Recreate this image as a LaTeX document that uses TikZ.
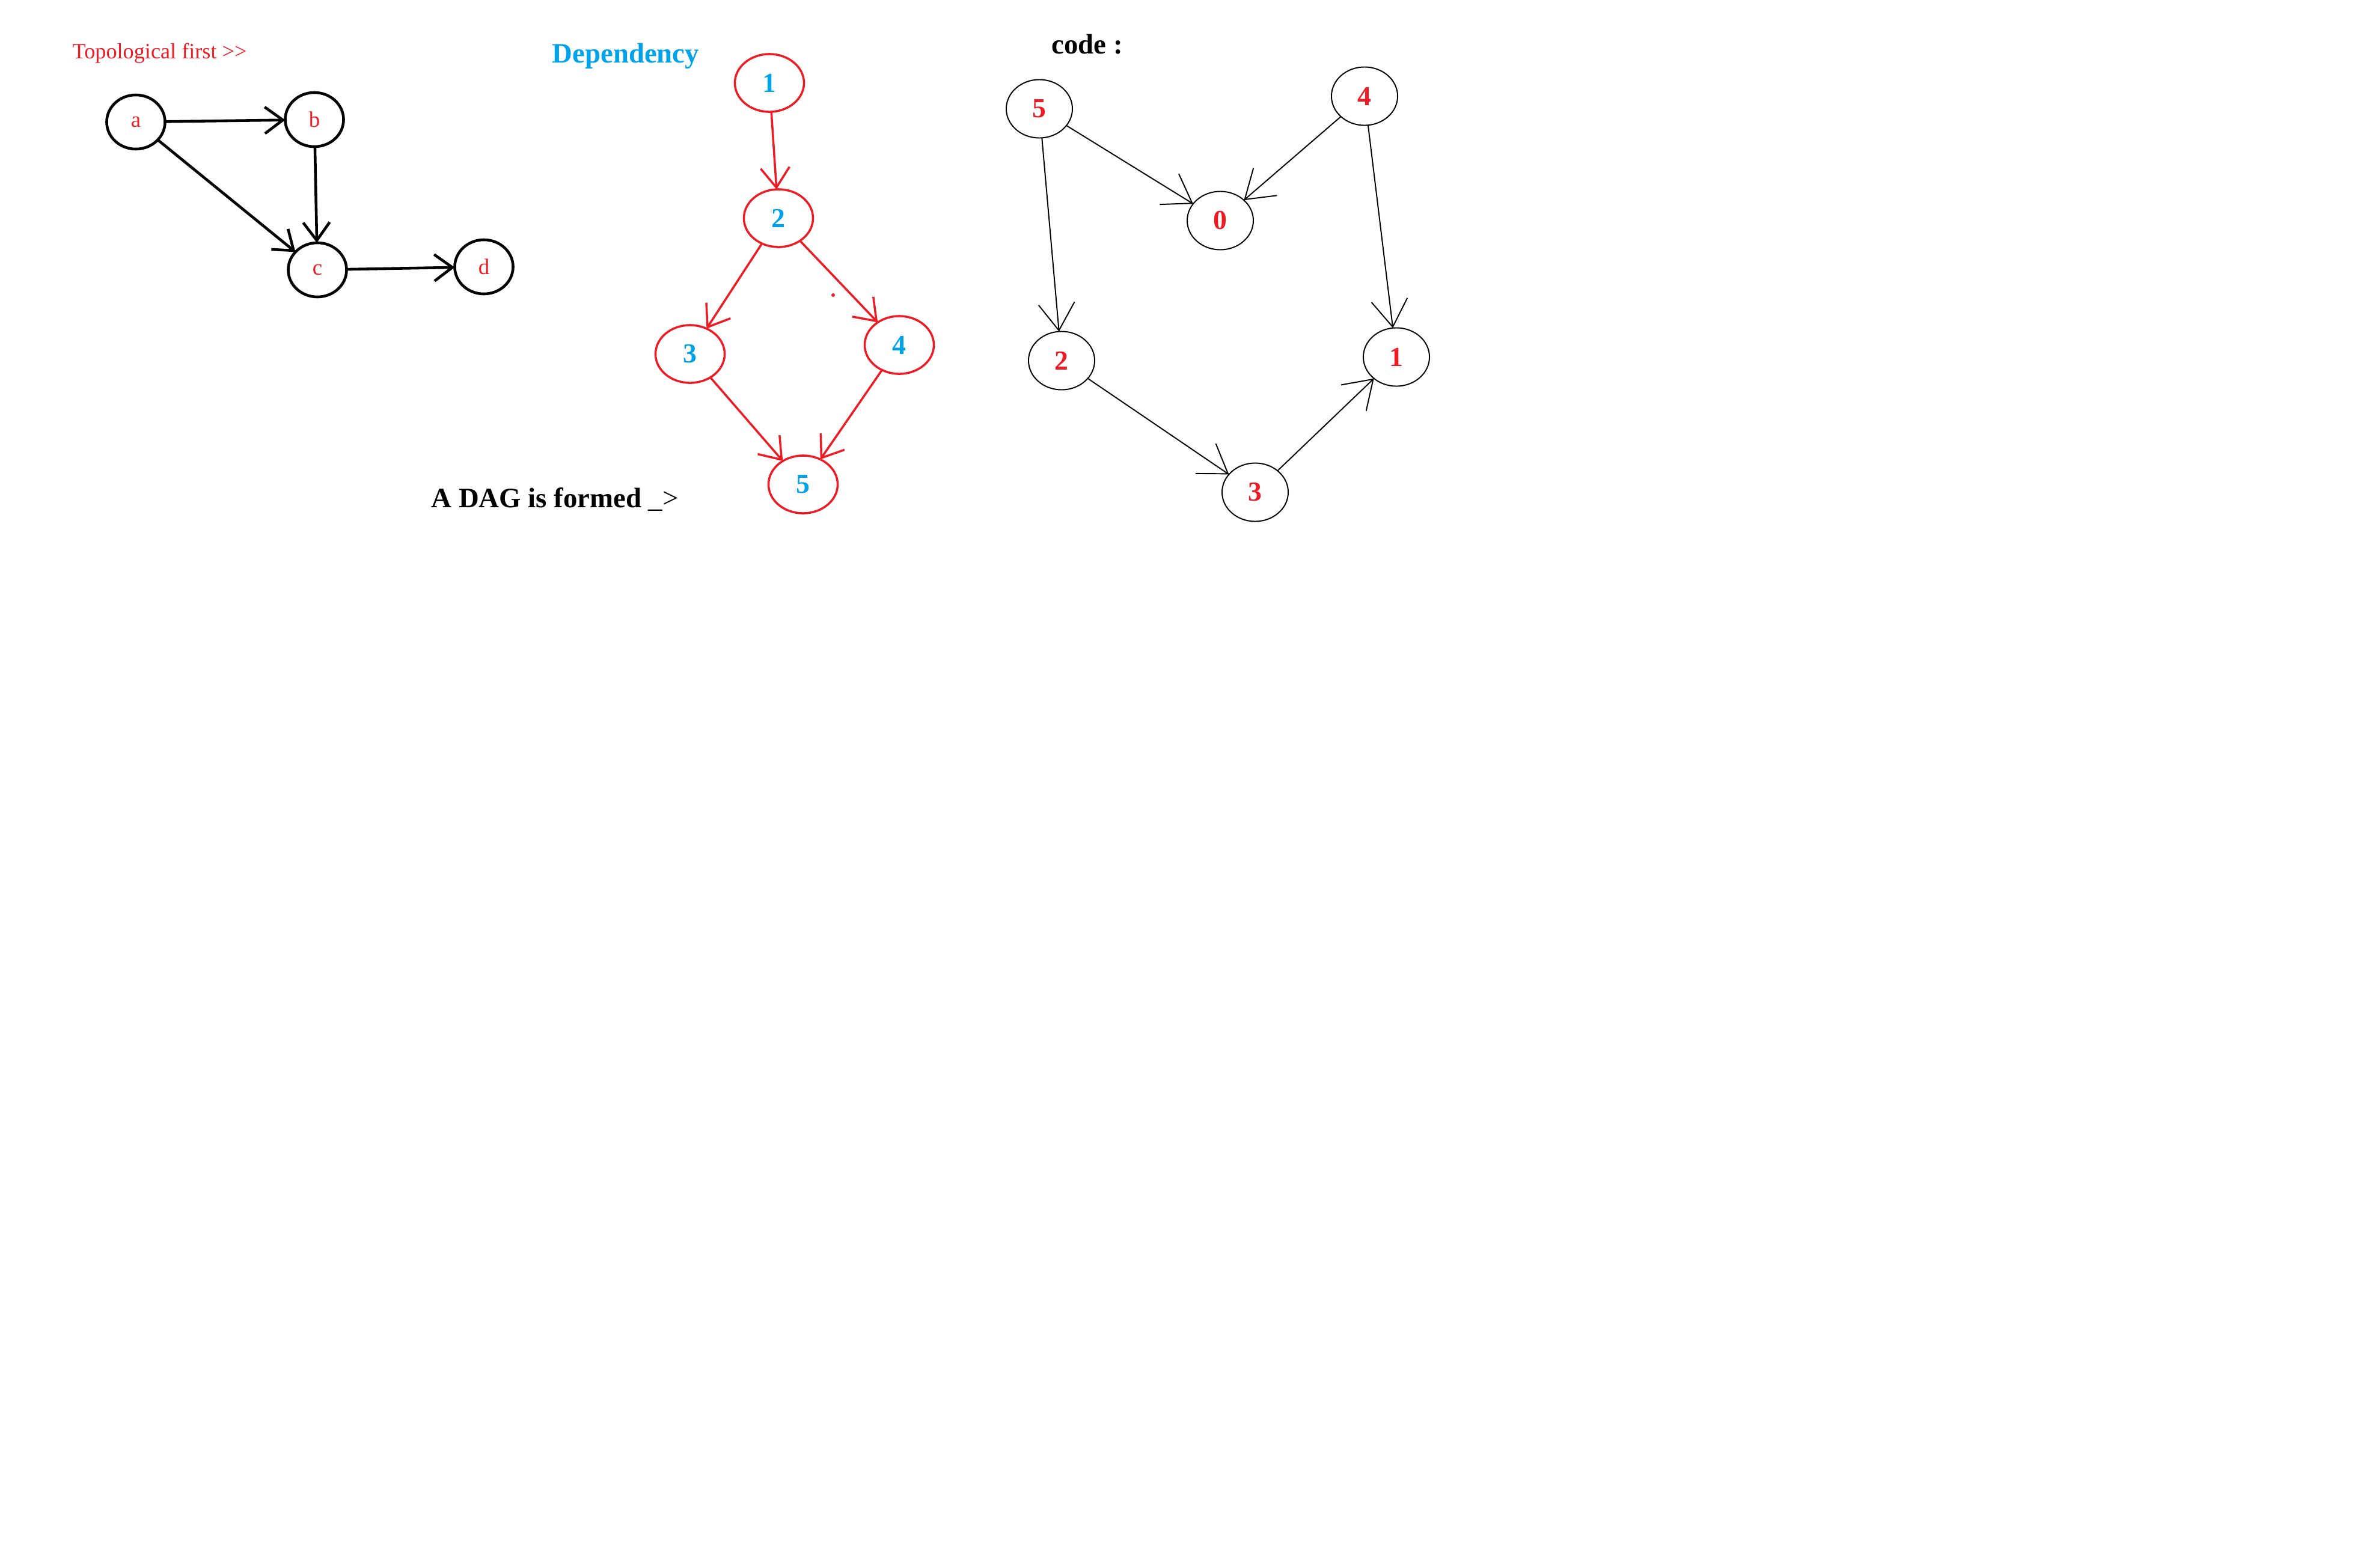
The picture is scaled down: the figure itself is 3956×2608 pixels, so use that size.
\documentclass[tikz,border=0pt]{standalone}
\usepackage{fontspec}
\setmainfont{Liberation Serif}
\usetikzlibrary{shapes.geometric,arrows.meta}
\definecolor{paintred}{RGB}{237,28,36}
\definecolor{paintblue}{RGB}{0,162,232}

\begin{document}
\begin{tikzpicture}[x=0.01cm,y=-0.01cm,
  toponode/.style={draw,ellipse,line width=1.3pt,minimum width=0.97cm,minimum height=0.9cm,inner sep=0pt,outer sep=0pt,text=paintred,font=\fontsize{10.5}{12}\selectfont},
  depnode/.style={draw=paintred,ellipse,line width=1pt,minimum width=1.15cm,minimum height=0.96cm,inner sep=0pt,outer sep=0pt,text=paintblue,font=\fontsize{13}{15}\selectfont\bfseries},
  codenode/.style={draw,ellipse,line width=0.55pt,minimum width=1.1cm,minimum height=0.97cm,inner sep=0pt,outer sep=0pt,text=paintred,font=\fontsize{13}{15}\selectfont\bfseries},
  toparrow/.style={->,>={Straight Barb[length=0.3cm,width=0.44cm]},line width=1.3pt},
  deparrow/.style={->,>={Straight Barb[length=0.33cm,width=0.48cm]},line width=1pt,paintred},
  codearrow/.style={->,>={Straight Barb[length=0.45cm,width=0.6cm]},line width=0.55pt},
  title/.style={anchor=base west,inner sep=0pt,font=\fontsize{13.3}{15}\selectfont\bfseries}]
\useasboundingbox (0,0) rectangle (3956,2608);

% topological first
\node[anchor=base west,inner sep=0pt,text=paintred,font=\fontsize{10.3}{12}\selectfont] (topo) at (120,97) {Topological first >{}>};
\node[toponode] (a) at (226,203) {a};
\node[toponode] (b) at (523,199) {b};
\node[toponode] (c) at (528,449) {c};
\node[toponode] (d) at (805,444) {d};
\draw[toparrow] (a) -- (b);
\draw[toparrow] (b) -- (c);
\draw[toparrow] (a) -- (c);
\draw[toparrow] (c) -- (d);

% dependency
\node[title,text=paintblue] (dep) at (918,104) {Dependency};
\node[depnode] (d1) at (1280,138) {1};
\node[depnode] (d2) at (1295,363) {2};
\node[depnode] (d3) at (1148,589) {3};
\node[depnode] (d4) at (1496,574) {4};
\node[depnode] (d5) at (1336,806) {5};
\draw[deparrow] (d1) -- (d2);
\draw[deparrow] (d2) -- (d3);
\draw[deparrow] (d2) -- (d4);
\draw[deparrow] (d3) -- (d5);
\draw[deparrow] (d4) -- (d5);
\fill[paintred] (1386,491) circle (0.03cm);
\node[title] (dag) at (717,844) {A DAG is formed {\mdseries\_>}};

% code
\node[title] (code) at (1749,89) {code :};
\node[codenode] (c5) at (1729,181) {5};
\node[codenode] (c4) at (2270,160) {4};
\node[codenode] (c0) at (2030,367) {0};
\node[codenode] (c2) at (1766,600) {2};
\node[codenode] (c1) at (2323,594) {1};
\node[codenode] (c3) at (2088,819) {3};
\draw[codearrow] (c5) -- (c0);
\draw[codearrow] (c4) -- (c0);
\draw[codearrow] (c5) -- (c2);
\draw[codearrow] (c4) -- (c1);
\draw[codearrow] (c2) -- (c3);
\draw[codearrow] (c3) -- (c1);
\end{tikzpicture}
\end{document}
